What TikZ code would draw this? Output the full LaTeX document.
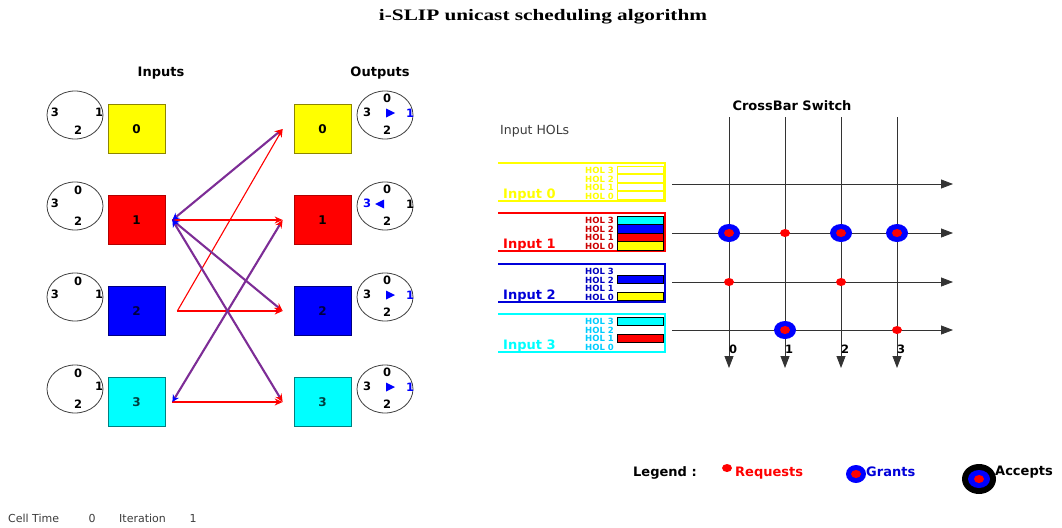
\documentclass[tikz,border=0pt]{standalone}
\usepackage{fontspec}
\setmainfont{DejaVu Sans}
\newfontfamily\serifT{Liberation Serif}
\usetikzlibrary{shapes.geometric,arrows.meta}
\definecolor{purp}{RGB}{125,45,150}
\definecolor{yel}{RGB}{255,255,0}
\definecolor{cya}{RGB}{0,255,255}
\definecolor{blu}{RGB}{0,0,255}
\definecolor{txtgray}{RGB}{60,60,60}
\begin{document}
\begin{tikzpicture}[x=1pt,y=-1pt,
  hdr/.style={font=\bfseries\fontsize{13}{15}\selectfont, inner sep=0},
  sq/.style={draw, line width=0.7pt, minimum width=57pt, minimum height=49pt, inner sep=0, font=\bfseries\fontsize{12}{14}\selectfont},
  rr/.style={draw=black!75, ellipse, minimum width=56pt, minimum height=48pt, inner sep=0, line width=0.8pt},
  dig/.style={font=\bfseries\fontsize{11.5}{13}\selectfont, inner sep=0},
  hol/.style={font=\bfseries\fontsize{8.5}{9}\selectfont, inner sep=0, anchor=east},
  inlab/.style={font=\bfseries\fontsize{13}{15}\selectfont, inner sep=0, anchor=base west},
  req/.style={ellipse, fill=red, inner sep=0, minimum width=10pt, minimum height=8pt},
  grant/.style={ellipse, fill=blu, inner sep=0, minimum width=22pt, minimum height=18pt},
  reqline/.style={red, line width=1.1pt, -{Stealth[red,length=8pt,width=7pt]}},
  grline/.style={purp, line width=2.1pt, {Stealth[blu,length=7pt,width=7pt]}-{Stealth[red,length=8pt,width=7pt]}},
  xbar/.style={black!80, line width=0.8pt, -{Triangle[length=12pt,width=9pt]}},
  plain/.style={font=\fontsize{11}{13}\selectfont, text=txtgray, inner sep=0},
  leg/.style={font=\bfseries\fontsize{13}{15}\selectfont, inner sep=0, anchor=west}
]
\useasboundingbox (0,0) rectangle (1062,527);

% title
\node[inner sep=0] (title) at (543,17) {\scalebox{1.33}[1]{\serifT\bfseries\fontsize{16}{18}\selectfont i-SLIP unicast scheduling algorithm}};

% headers
\node[hdr] (hin) at (161,73) {Inputs};
\node[hdr] (hout) at (380,73) {Outputs};

% input boxes
\node[sq, fill=yel, draw=olive] (in0) at (136.5,129) {0};
\node[sq, fill=red, draw=red!70!black] (in1) at (136.5,220) {1};
\node[sq, fill=blu, draw=blue!50!black, text=blue!25!black] (in2) at (136.5,311) {2};
\node[sq, fill=cya, draw=teal, text=teal!50!black] (in3) at (136.5,402) {3};
% output boxes
\node[sq, fill=yel, draw=olive] (out0) at (322.5,129) {0};
\node[sq, fill=red, draw=red!70!black] (out1) at (322.5,220) {1};
\node[sq, fill=blu, draw=blue!50!black, text=blue!25!black] (out2) at (322.5,311) {2};
\node[sq, fill=cya, draw=teal, text=teal!50!black] (out3) at (322.5,402) {3};

% input round-robin circles
\node[rr] (ic0) at (75,115) {};
\node[rr] (ic1) at (75,206) {};
\node[rr] (ic2) at (75,297) {};
\node[rr] (ic3) at (75,389) {};
\node[dig] (ic0d3) at ([shift={(-20,-3)}]ic0.center) {3};
\node[dig] (ic0d1) at ([shift={(24,-3)}]ic0.center) {1};
\node[dig] (ic0d2) at ([shift={(3,15)}]ic0.center) {2};
\node[dig] (ic1d0) at ([shift={(3,-16)}]ic1.center) {0};
\node[dig] (ic1d3) at ([shift={(-20,-3)}]ic1.center) {3};
\node[dig] (ic1d2) at ([shift={(3,15)}]ic1.center) {2};
\node[dig] (ic2d0) at ([shift={(3,-16)}]ic2.center) {0};
\node[dig] (ic2d3) at ([shift={(-20,-3)}]ic2.center) {3};
\node[dig] (ic2d1) at ([shift={(24,-3)}]ic2.center) {1};
\node[dig] (ic3d0) at ([shift={(3,-16)}]ic3.center) {0};
\node[dig] (ic3d1) at ([shift={(24,-3)}]ic3.center) {1};
\node[dig] (ic3d2) at ([shift={(3,15)}]ic3.center) {2};

% output round-robin circles
\foreach \i/\y in {0/115,1/206,2/297,3/389}{
  \node[rr] (oc\i) at (385,\y) {};
  \node[dig] (oc\i d0) at ([shift={(2,-17)}]oc\i.center) {0};
  \node[dig] (oc\i d2) at ([shift={(2,15)}]oc\i.center) {2};
}
\foreach \i in {0,2,3}{
  \node[dig] (oc\i d3) at ([shift={(-18,-3)}]oc\i.center) {3};
  \node[dig, text=blu] (oc\i d1) at ([shift={(25,-2)}]oc\i.center) {1};
  \fill[blu] ([shift={(10,-2)}]oc\i.center) -- ++(-9,-4.5) -- ++(0,9) -- cycle;
}
\node[dig, text=blu] (oc1d3) at ([shift={(-18,-3)}]oc1.center) {3};
\node[dig] (oc1d1) at ([shift={(25,-2)}]oc1.center) {1};
\fill[blu] ([shift={(-10,-2)}]oc1.center) -- ++(9,-4.5) -- ++(0,9) -- cycle;

% request / grant connectors
\draw[reqline] ([xshift=7pt]in1.east) -- ([xshift=-11pt]out1.west);
\draw[reqline] ([xshift=12pt]in2.east) -- ([xshift=-11pt]out0.west);
\draw[reqline] ([xshift=12pt]in2.east) -- ([xshift=-11pt]out2.west);
\draw[reqline] ([xshift=7pt]in3.east) -- ([xshift=-11pt]out3.west);
\draw[grline] ([xshift=7pt]in1.east) -- ([xshift=-11pt]out0.west);
\draw[grline] ([xshift=7pt]in1.east) -- ([xshift=-11pt]out2.west);
\draw[grline] ([xshift=7pt]in1.east) -- ([xshift=-11pt]out3.west);
\draw[grline] ([xshift=7pt]in3.east) -- ([xshift=-11pt]out1.west);

% ---------------- right side ----------------
\node[plain, anchor=west, font=\fontsize{12.5}{14}\selectfont] (hols) at (500,131) {Input HOLs};
\node[hdr] (xbt) at (792,106) {CrossBar Switch};

% input HOL frames
\draw[yel, line width=1.8pt] (498,163) -- (665,163) -- (665,201) -- (498,201);
\draw[red, line width=2.2pt] (498,213) -- (665,213) -- (665,251) -- (498,251);
\draw[blue!85!black, line width=1.8pt] (498,264) -- (665,264) -- (665,302) -- (498,302);
\draw[cya, line width=1.8pt] (498,314) -- (665,314) -- (665,352) -- (498,352);

\node[inlab, text=yel] (lab0) at (503,198.5) {Input 0};
\node[inlab, text=red] (lab1) at (503,248.5) {Input 1};
\node[inlab, text=blue!85!black] (lab2) at (503,299.5) {Input 2};
\node[inlab, text=cya] (lab3) at (503,349.5) {Input 3};

% HOL labels
\foreach \k/\T/\c in {0/163/yel,1/213/red!80!black,2/264/blue!75!black,3/314/cya!80!blue}{
  \node[hol, text=\c] (h\k n3) at (614,\T+7.5) {HOL 3};
  \node[hol, text=\c] (h\k n2) at (614,\T+16) {HOL 2};
  \node[hol, text=\c] (h\k n1) at (614,\T+24.5) {HOL 1};
  \node[hol, text=\c] (h\k n0) at (614,\T+33) {HOL 0};
}
% HOL cells (rows from HOL 3 at top)
\foreach \r in {0,1,2,3}{
  \draw[yel, line width=0.8pt] (617,166+8.5*\r) rectangle (663,173.5+8.5*\r);
}
\filldraw[fill=cya, draw=black, line width=0.8pt] (617,216) rectangle (663,224.5);
\filldraw[fill=blu, draw=black, line width=0.8pt] (617,224.5) rectangle (663,233);
\filldraw[fill=red, draw=black, line width=0.8pt] (617,233) rectangle (663,241.5);
\filldraw[fill=yel, draw=black, line width=0.8pt] (617,241.5) rectangle (663,250);
\filldraw[fill=blu, draw=black, line width=0.8pt] (617,275.5) rectangle (663,283.5);
\filldraw[fill=yel, draw=black, line width=0.8pt] (617,292.5) rectangle (663,300.5);
\filldraw[fill=cya, draw=black, line width=0.8pt] (617,317.5) rectangle (663,325.5);
\filldraw[fill=red, draw=black, line width=0.8pt] (617,334.5) rectangle (663,342.5);

% crossbar
\coordinate (r0s) at (672,184); \coordinate (r0e) at (953,184);
\coordinate (r1s) at (672,233); \coordinate (r1e) at (953,233);
\coordinate (r2s) at (672,282); \coordinate (r2e) at (953,282);
\coordinate (r3s) at (672,330); \coordinate (r3e) at (953,330);
\coordinate (c0s) at (729,117); \coordinate (c0e) at (729,368);
\coordinate (c1s) at (785,117); \coordinate (c1e) at (785,368);
\coordinate (c2s) at (841,117); \coordinate (c2e) at (841,368);
\coordinate (c3s) at (897,117); \coordinate (c3e) at (897,368);
\foreach \i in {0,1,2,3}{
  \draw[xbar] (r\i s) -- (r\i e);
  \draw[xbar] (c\i s) -- (c\i e);
}
\node[dig, anchor=base] (cl0) at (733,353) {0};
\node[dig, anchor=base] (cl1) at (789,353) {1};
\node[dig, anchor=base] (cl2) at (845,353) {2};
\node[dig, anchor=base] (cl3) at (901,353) {3};

% grants and requests
\node[grant] (g10) at (729,233) {}; \node[req] (g10r) at (g10) {};
\node[grant] (g12) at (841,233) {}; \node[req] (g12r) at (g12) {};
\node[grant] (g13) at (897,233) {}; \node[req] (g13r) at (g13) {};
\node[grant] (g31) at (785,330) {}; \node[req] (g31r) at (g31) {};
\node[req] (q11) at (785,233) {};
\node[req] (q20) at (729,282) {};
\node[req] (q22) at (841,282) {};
\node[req] (q33) at (897,330) {};

% legend
\node[leg] (legt) at (633,473) {Legend :};
\node[req] (legq) at (727,468) {};
\node[leg, text=red] (legqt) at (735,473) {Requests};
\node[grant, minimum width=20pt, minimum height=18pt] (legg) at (856,474) {};
\node[req] (leggr) at (legg) {};
\node[leg, text=blue!85!black] (leggt) at (866,472) {Grants};
\node[ellipse, fill=black, inner sep=0, minimum width=34pt, minimum height=30pt] (lega) at (979,479) {};
\node[ellipse, fill=blu, inner sep=0, minimum width=22pt, minimum height=18pt] (legab) at (lega) {};
\node[req] (legar) at (lega) {};
\node[leg] (legat) at (995,472) {Accepts};

% status line
\node[plain, anchor=west] (ct) at (8,518) {Cell Time};
\node[plain] (ctv) at (92,518) {0};
\node[plain, anchor=west] (it) at (119,518) {Iteration};
\node[plain] (itv) at (193,518) {1};
\end{tikzpicture}
\end{document}
